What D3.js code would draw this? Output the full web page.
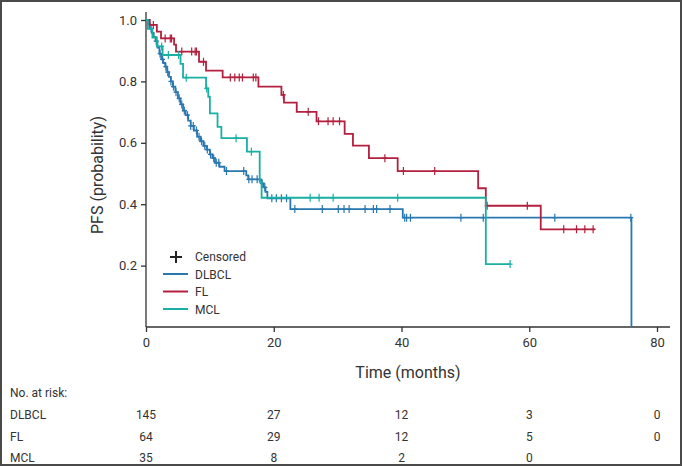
<!DOCTYPE html>
<html>
<head>
<meta charset="utf-8">
<script src="https://cdn.jsdelivr.net/npm/d3@7"></script>
<style>
  body { margin: 0; background: #fff; }
  svg { display: block; }
  text { fill: #333; }
</style>
</head>
<body>
<svg id="chart" width="682" height="466"></svg>
<script>
// ---- data (time in months, survival probability) ----
const groups = ['DLBCL', 'FL', 'MCL'];
const groupColors = ['#2a78b0', '#b3203f', '#19b0a3'];

const dlbclSteps = [
  [0, 1.0], [0.3, 0.986], [0.6, 0.972], [0.9, 0.958], [1.2, 0.945], [1.5, 0.931],
  [1.8, 0.91], [2.1, 0.89], [2.4, 0.872], [2.7, 0.86], [3.0, 0.848], [3.3, 0.83],
  [3.6, 0.815], [3.9, 0.80], [4.2, 0.783], [4.6, 0.765], [5.0, 0.745], [5.4, 0.725],
  [5.8, 0.705], [6.2, 0.69], [6.6, 0.672], [7.0, 0.655], [7.5, 0.64], [8.0, 0.62],
  [8.5, 0.605], [9.0, 0.59], [9.5, 0.578], [10.0, 0.562], [10.4, 0.55], [10.8, 0.535],
  [11.5, 0.522], [12.3, 0.508], [15.7, 0.494], [16.0, 0.481], [18.0, 0.468],
  [18.4, 0.455], [18.7, 0.44], [19.0, 0.419], [22.6, 0.384], [40.2, 0.356], [76.0, 0]
];
const dlbclCensor = [
  0.8, 1.6, 2.2, 2.6, 3.1, 3.4, 3.9, 4.3, 4.7, 5.2, 5.6, 6.0, 6.5, 7.0, 7.4, 7.9,
  8.3, 8.7, 9.2, 9.6, 10.1, 10.6, 11.0, 11.4, 12.6, 15.3, 16.1, 16.6, 17.4, 18.2,
  18.6, 19.7, 20.4, 21.2, 22.0, 23.3, 27.6, 30.1, 31.0, 31.8, 34.3, 35.6, 36.1,
  38.2, 40.5, 40.8, 41.4, 49.3, 52.8, 64.0, 75.9
];

const flSteps = [
  [0, 1.0], [0.6, 0.984], [1.7, 0.962], [2.35, 0.94], [4.4, 0.92], [4.7, 0.897],
  [8.3, 0.864], [9.4, 0.835], [12.0, 0.813], [17.6, 0.783], [21.2, 0.756],
  [21.6, 0.731], [23.6, 0.701], [26.7, 0.67], [31.1, 0.629], [32.4, 0.591],
  [34.9, 0.55], [39.4, 0.508], [52.0, 0.452], [53.2, 0.395], [61.8, 0.318], [70.3, 0.318]
];
const flCensor = [
  1.15, 3.0, 3.8, 4.0, 5.6, 7.15, 7.7, 7.9, 9.0, 13.2, 13.9, 14.6, 15.1, 16.8, 17.2,
  21.5, 25.4, 27.0, 28.5, 29.3, 30.3, 37.4, 40.3, 45.2, 53.4, 59.7, 65.4, 67.4, 68.7, 70.0
];

const mclSteps = [
  [0, 1.0], [0.3, 0.971], [1.0, 0.943], [1.7, 0.914], [2.6, 0.886], [5.4, 0.857],
  [5.8, 0.812], [9.4, 0.777], [9.75, 0.75], [10.0, 0.696], [11.2, 0.652],
  [11.8, 0.615], [15.8, 0.571], [17.8, 0.473], [18.1, 0.421], [53.2, 0.205], [57.0, 0.205]
];
const mclCensor = [2.45, 3.5, 5.1, 6.3, 9.5, 14.1, 16.5, 25.7, 27.1, 29.3, 39.4, 57.0];

const xTicks = [0, 20, 40, 60, 80];
const yTicks = [0.2, 0.4, 0.6, 0.8, 1.0];

const riskTimes = [0, 20, 40, 60, 80];
const riskDLBCL = [145, 27, 12, 3, 0];
const riskFL = [64, 29, 12, 5, 0];
const riskMCL = [35, 8, 2, 0];

// ---- drawing ----
const svg = d3.select('#chart');
const fontMain = 'Roboto, "Liberation Sans", sans-serif';

const x = d3.scaleLinear().domain([0, 80]).range([146, 657]);
const y = d3.scaleLinear().domain([0, 1]).range([327, 20]);

// outer frame
svg.append('rect')
  .attr('x', 1).attr('y', 1)
  .attr('width', 680).attr('height', 464)
  .attr('fill', 'none')
  .attr('stroke', '#4a4a4a')
  .attr('stroke-width', 2);

// axes
const xAxis = svg.append('g')
  .attr('transform', `translate(0,${y(0)})`)
  .call(d3.axisBottom(x).tickValues(xTicks).tickSize(5).tickPadding(6));
xAxis.select('.domain').attr('d', `M${x(0)},0H670`);

const yAxis = svg.append('g')
  .attr('transform', `translate(${x(0)},0)`)
  .call(d3.axisLeft(y).tickValues(yTicks).tickFormat(d3.format('.1f')).tickSize(5).tickPadding(4));
yAxis.select('.domain').attr('d', `M0,${y(0)}V12`);

svg.selectAll('.domain, .tick line').attr('stroke', '#333').attr('stroke-width', 1.3);
svg.selectAll('.tick text')
  .attr('font-family', fontMain)
  .attr('font-size', 13)
  .attr('fill', '#333');

svg.append('text')
  .attr('x', 408).attr('y', 378)
  .attr('text-anchor', 'middle')
  .attr('font-family', fontMain)
  .attr('font-size', 16)
  .text('Time (months)');

svg.append('text')
  .attr('transform', 'translate(103,175) rotate(-90)')
  .attr('text-anchor', 'middle')
  .attr('font-family', fontMain)
  .attr('font-size', 16)
  .text('PFS (probability)');

// survival curves
const series = [
  { steps: dlbclSteps, censor: dlbclCensor },
  { steps: flSteps, censor: flCensor },
  { steps: mclSteps, censor: mclCensor }
];

const line = d3.line()
  .x(d => x(d[0]))
  .y(d => y(d[1]))
  .curve(d3.curveStepAfter);

const bisect = d3.bisector(d => d[0]).right;
function survAt(steps, t) {
  const i = bisect(steps, t) - 1;
  return steps[Math.max(0, i)][1];
}

series.forEach((s, i) => {
  const g = svg.append('g');
  g.append('path')
    .attr('d', line(s.steps))
    .attr('fill', 'none')
    .attr('stroke', groupColors[i])
    .attr('stroke-width', 1.8);

  g.selectAll('path.cens')
    .data(s.censor)
    .join('path')
    .attr('class', 'cens')
    .attr('d', t => {
      const cx = x(t), cy = y(survAt(s.steps, t));
      return `M${cx},${cy - 4}V${cy + 4}M${cx - 2.5},${cy}H${cx + 2.5}`;
    })
    .attr('stroke', groupColors[i])
    .attr('stroke-width', 1.2);
});

// legend
const legend = svg.append('g').attr('font-family', fontMain).attr('font-size', 12);
legend.append('path')
  .attr('d', 'M176,251V263M170,257H182')
  .attr('stroke', '#222')
  .attr('stroke-width', 2);
legend.append('text').attr('x', 195).attr('y', 261).text('Censored');
groups.forEach((name, i) => {
  const ly = 274 + i * 17.5;
  legend.append('line')
    .attr('x1', 163).attr('x2', 188)
    .attr('y1', ly).attr('y2', ly)
    .attr('stroke', groupColors[i])
    .attr('stroke-width', 2);
  legend.append('text').attr('x', 195).attr('y', ly + 4.5).text(name);
});

// number at risk table
const table = svg.append('g').attr('font-family', fontMain).attr('font-size', 12);
table.append('text').attr('x', 10).attr('y', 397).text('No. at risk:');
const riskRows = [riskDLBCL, riskFL, riskMCL];
riskRows.forEach((row, i) => {
  const ry = 419 + i * 21.5;
  table.append('text').attr('x', 10).attr('y', ry).text(groups[i]);
  table.selectAll(null)
    .data(row)
    .join('text')
    .attr('x', (d, j) => x(riskTimes[j]))
    .attr('y', ry)
    .attr('text-anchor', 'middle')
    .text(d => d);
});
</script>
</body>
</html>
